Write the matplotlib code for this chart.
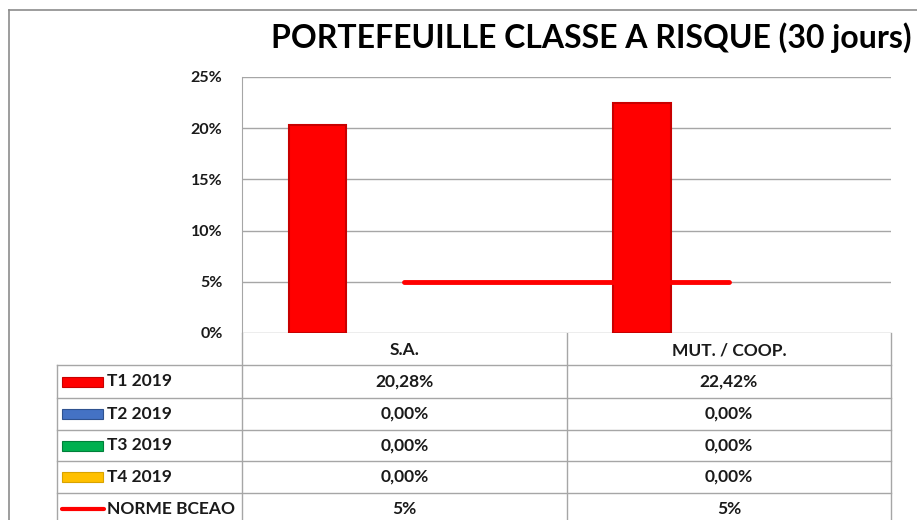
import numpy as np
import matplotlib.pyplot as plt

# Données
categories = ["S.A.", "MUT. / COOP."]
series = ["T1 2019", "T2 2019", "T3 2019", "T4 2019"]
t1_2019 = [20.28, 22.42]
t2_2019 = [0.00, 0.00]
t3_2019 = [0.00, 0.00]
t4_2019 = [0.00, 0.00]
norme_bceao = [5, 5]
yticks = [0, 5, 10, 15, 20, 25]

valeurs = [t1_2019, t2_2019, t3_2019, t4_2019]
couleurs = ["#FF0000", "#4472C4", "#00B050", "#FFC000"]
bords = ["#C80000", "#2F528F", "#00803A", "#D9A300"]

plt.rcParams["font.family"] = ["Lato", "DejaVu Sans"]
plt.rcParams["font.weight"] = "bold"

W, H = 917, 520
fig = plt.figure(figsize=(W / 100, H / 100), dpi=100)

# --------- Cadre et tableau (coordonnées en pixels) ---------
axt = fig.add_axes([0, 0, 1, 1])
axt.set_xlim(0, W)
axt.set_ylim(H, 0)
axt.axis("off")

gris = "#A6A6A6"
axt.plot([9, 9], [10, H], color="#8C8C8C", lw=1.2)
axt.plot([9, W], [10, 10], color="#8C8C8C", lw=1.2)

x_g, x_m, x_d, x_leg = 242, 567, 891, 57
lignes = [333, 365, 398, 430, 461, 493]
for x in [x_g, x_m, x_d]:
    axt.plot([x, x], [333, H], color=gris, lw=1)
axt.plot([x_leg, x_leg], [365, H], color=gris, lw=1)
for y in lignes[1:]:
    axt.plot([x_leg, x_d], [y, y], color=gris, lw=1)

txt = "#1A1A1A"
fs = 12.5
centres = [(x_g + x_m) / 2, (x_m + x_d) / 2]
for j, cat in enumerate(categories):
    axt.text(centres[j], 350, cat, ha="center", va="center", fontsize=fs, color=txt)

noms = series + ["NORME BCEAO"]
donnees = valeurs + [norme_bceao]
for i, nom in enumerate(noms):
    yc = (lignes[i + 1] + (lignes[i + 2] if i + 2 < len(lignes) else 525)) / 2
    if i < 4:
        axt.add_patch(plt.Rectangle((62, yc - 5), 41, 10, facecolor=couleurs[i],
                                    edgecolor=bords[i], lw=0.8))
    else:
        axt.plot([62, 104], [yc, yc], color="#FF0000", lw=3, solid_capstyle="round")
    axt.text(107, yc, nom, ha="left", va="center", fontsize=fs, color=txt)
    for j in range(len(categories)):
        if i < 4:
            lab = f"{donnees[i][j]:.2f}%".replace(".", ",")
        else:
            lab = f"{donnees[i][j]:.0f}%"
        axt.text(centres[j], yc, lab, ha="center", va="center", fontsize=fs, color=txt)

# --------- Titre ---------
axt.text(271, 38, "PORTEFEUILLE CLASSE A RISQUE (30 jours)", ha="left", va="center",
         fontsize=23, color="black")

# --------- Graphique ---------
ax = fig.add_axes([x_g / W, 1 - 333 / H, (x_d - x_g) / W, (333 - 77) / H])
x = np.arange(len(categories))
larg = 0.178
for i in range(4):
    lw = 1.5 if max(valeurs[i]) > 0 else 0
    ax.bar(x + (i - 1.5) * larg, valeurs[i], width=larg, color=couleurs[i],
           edgecolor=bords[i], linewidth=lw, zorder=3)
ax.plot(x, norme_bceao, color="#FF0000", lw=3.5, solid_capstyle="round", zorder=4)

ax.set_xlim(-0.5, 1.5)
ax.set_ylim(0, 25)
ax.set_yticks(yticks)
ax.set_yticklabels([f"{v}%" for v in yticks], fontsize=11.5, color=txt)
ax.set_xticks([])
ax.grid(axis="y", color=gris, lw=1, zorder=0)
ax.tick_params(axis="y", length=0, pad=14)
for s in ["top", "right", "bottom"]:
    ax.spines[s].set_visible(False)
ax.spines["left"].set_color(gris)

fig.savefig("out.png", dpi=100)
